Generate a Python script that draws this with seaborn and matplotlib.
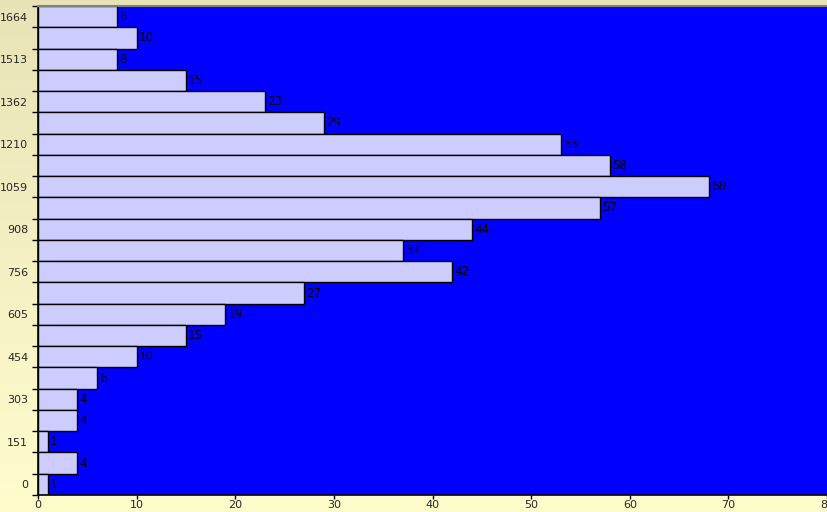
import numpy as np
import pandas as pd
import matplotlib
matplotlib.use("Agg")
import matplotlib.pyplot as plt
from matplotlib.ticker import FixedLocator
import seaborn as sns

# Histogram bins (lower edge of each bin) and their counts, bottom to top
bin_labels = ["0", "76", "151", "227", "303", "378", "454", "530", "605", "681",
              "756", "832", "908", "983", "1059", "1135", "1210", "1286", "1362",
              "1437", "1513", "1589", "1664"]
counts = [1, 4, 1, 4, 4, 6, 10, 15, 19, 27, 42, 37, 44, 57, 68, 58, 53, 29, 23,
          15, 8, 10, 8]
x_ticks = [0, 10, 20, 30, 40, 50, 60, 70, 80]

sns.set_style("white")
plt.rcParams["font.family"] = ["Liberation Sans Narrow", "DejaVu Sans"]

df = pd.DataFrame({"bin": bin_labels, "count": counts})
order = bin_labels[::-1]  # seaborn draws the first category at the top

fig = plt.figure(figsize=(8.27, 5.12), dpi=100)

# soft yellow gradient behind everything
bg = fig.add_axes([0, 0, 1, 1], zorder=-10)
grad = np.linspace(0, 1, 256).reshape(-1, 1)
top_c = np.array([0.91, 0.89, 0.72])
bot_c = np.array([1.0, 0.99, 0.80])
img = top_c + (bot_c - top_c) * grad
bg.imshow(img[:, None, :].repeat(2, axis=1), aspect="auto", extent=[0, 1, 0, 1])
bg.axis("off")

ax = fig.add_axes([38 / 827, 17 / 512, 1 - 38 / 827, (495 - 6) / 512])
ax.set_facecolor("#0000FF")

sns.barplot(data=df, x="count", y="bin", order=order, orient="h",
            color="#CCCCFF", width=1.0, edgecolor="black", linewidth=1.0,
            saturation=1, ax=ax)

ax.set_xlim(0, 80)
ax.set_ylim(len(order) - 0.5, -0.5)
ax.set_xlabel("")
ax.set_ylabel("")

fs = 8
for cont in ax.containers:
    ax.bar_label(cont, labels=[str(int(round(v))) for v in cont.datavalues],
                 padding=1.5, fontsize=8.5, color="black")

# y labels on every other bin, tick marks on bin boundaries
n = len(order)
ax.set_yticks(range(n))
ax.set_yticklabels([lab if (bin_labels.index(lab) % 2 == 0) else "" for lab in order],
                   fontsize=fs)
ax.yaxis.set_minor_locator(FixedLocator(np.arange(-0.5, n, 1.0)))
ax.tick_params(axis="y", which="major", length=0, pad=7)
ax.tick_params(axis="y", which="minor", length=4, width=1, color="black", left=True)

ax.set_xticks(x_ticks)
ax.set_xticklabels([str(t) for t in x_ticks], fontsize=fs)
ax.tick_params(axis="x", which="major", length=3, width=1, color="black",
               bottom=True, pad=0.5)

for side in ["left", "bottom"]:
    ax.spines[side].set_color("black")
    ax.spines[side].set_linewidth(1.2)
ax.spines["top"].set_color("#808080")
ax.spines["top"].set_linewidth(1.5)
ax.spines["right"].set_visible(False)

fig.savefig("out.png", dpi=100)
